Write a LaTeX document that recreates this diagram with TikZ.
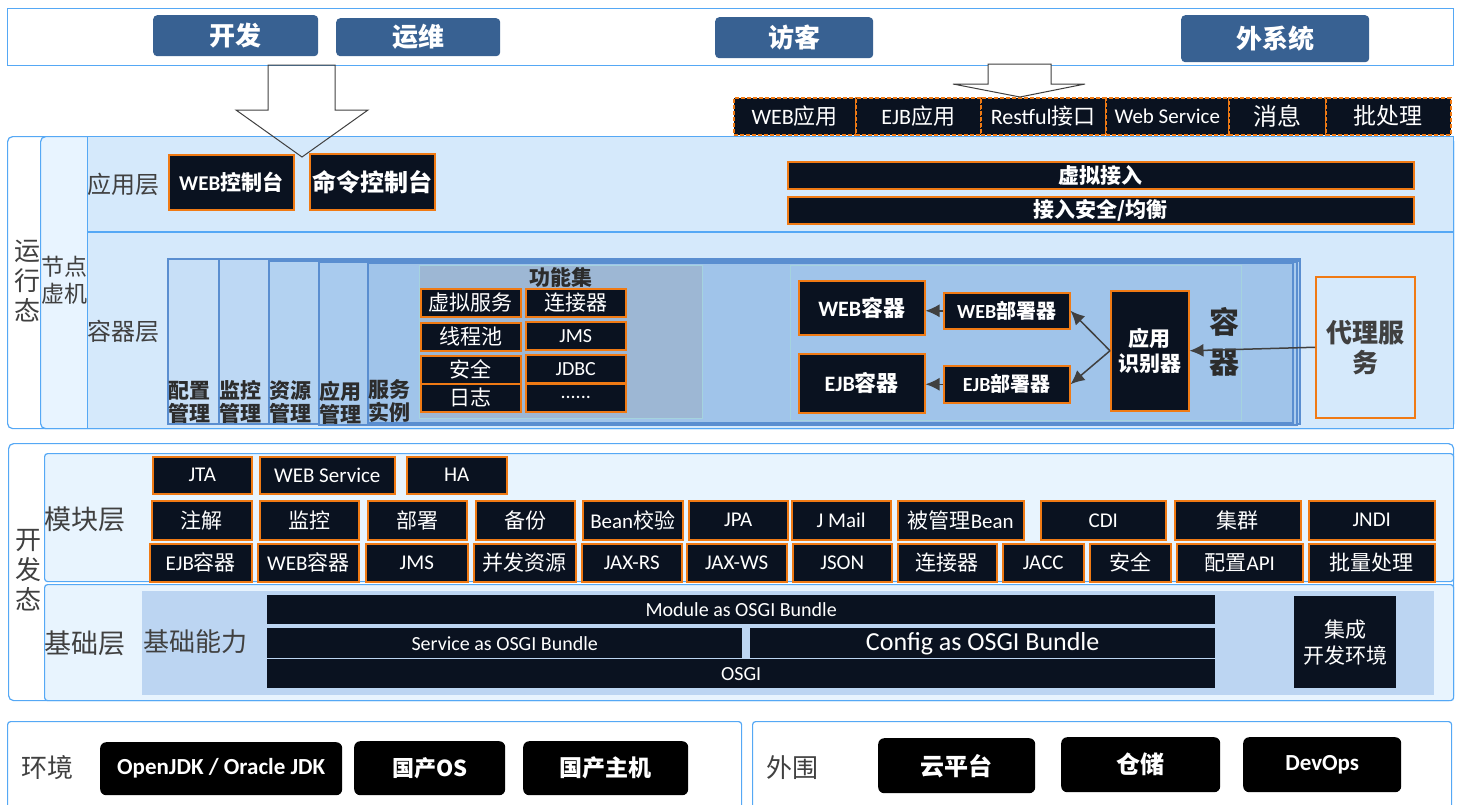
\documentclass[tikz,border=0pt]{standalone}
\usepackage{fontspec}
\setmainfont{Carlito}
\newfontfamily\cjk{Noto Sans CJK SC}
\usetikzlibrary{arrows.meta}
\newcommand{\zh}[1]{{\cjk #1}}
\newcommand{\fsz}[2]{\fontsize{#1}{#2}\selectfont}
\definecolor{btnblue}{HTML}{386192}
\definecolor{boxblack}{HTML}{0A1220}
\definecolor{orgline}{HTML}{F07A14}
\definecolor{layline}{HTML}{55A8F5}
\definecolor{vmfill}{HTML}{E8F4FF}
\definecolor{layfill}{HTML}{D5E9FB}
\definecolor{devfill}{HTML}{E8F4FE}
\definecolor{colline}{HTML}{5A8ED0}
\definecolor{colA}{HTML}{C7DFF7}
\definecolor{colB}{HTML}{BDD8F4}
\definecolor{colC}{HTML}{B3D2F1}
\definecolor{colD}{HTML}{A9CBEE}
\definecolor{colE}{HTML}{A0C4EA}
\definecolor{funfill}{HTML}{9DB7D4}
\definecolor{panelline}{HTML}{A5D3DE}
\definecolor{basefill}{HTML}{BCD5F2}
\definecolor{labgray}{HTML}{404040}
\definecolor{darktxt}{HTML}{2C2C2C}
\tikzstyle{frame} = [rectangle, draw=layline, line width=1.2pt, anchor=north west,
inner sep=0pt]
\tikzstyle{userbtn} = [rectangle, rounded corners=4pt, fill=btnblue, text=white,
anchor=north west, inner sep=0pt, font=\cjk\bfseries\fsz{26}{30}]
\tikzstyle{blk} = [rectangle, draw=orgline, line width=1.5pt, fill=boxblack,
text=white, anchor=north west, inner sep=0pt, font=\fsz{21}{24}]
\tikzstyle{dashblk} = [blk, dash pattern=on 4pt off 2pt, font=\fsz{22}{24}]
\tikzstyle{osgibar} = [rectangle, fill=boxblack, text=white, anchor=north west,
inner sep=0pt, font=\fsz{20}{22}]
\tikzstyle{colbox} = [rectangle, draw=colline, line width=1.5pt, anchor=north west,
inner sep=0pt]
\tikzstyle{collab} = [anchor=south west, inner sep=1pt, text=darktxt, align=left,
font=\cjk\bfseries\fsz{21}{23}]
\tikzstyle{laytext} = [text=labgray, align=center, inner sep=0pt,
font=\cjk\fsz{24}{30}]
\tikzstyle{envbox} = [rectangle, rounded corners=6pt, fill=black, text=white,
anchor=north west, inner sep=0pt, font=\bfseries\fsz{23}{26}]
\tikzstyle{arrow} = [line width=1.5pt, draw=labgray, -{Latex[length=14pt,width=13pt]}]
\tikzstyle{hollow} = [draw=labgray, line width=1pt]

\begin{document}
\begin{tikzpicture}[x=1pt, y=-1pt]
\useasboundingbox (0,0) rectangle (1459,804);

% users
\node[frame, line width=1pt, fill=white, minimum width=1446pt, minimum height=57pt] (users) at (7,8) {};
\node[userbtn, minimum width=165pt, minimum height=41pt] (dev) at (153,15) {开发};
\node[userbtn, minimum width=164pt, minimum height=38pt] (ops) at (336,18) {运维};
\node[userbtn, minimum width=158pt, minimum height=41pt] (guest) at (715,17) {访客};
\node[userbtn, minimum width=188pt, minimum height=47pt] (extsys) at (1181,15) {外系统};

% entries
\node[dashblk, minimum width=122pt, minimum height=37pt] (webapp) at (733,97) {WEB\zh{应用}};
\node[dashblk, minimum width=125pt, minimum height=37pt] (ejbapp) at (855,97) {EJB\zh{应用}};
\node[dashblk, minimum width=125pt, minimum height=37pt] (rest) at (980,97) {Restful\zh{接口}};
\node[dashblk, font=\fsz{21}{24}, minimum width=123pt, minimum height=37pt] (websvc) at (1105,97) {Web Service};
\node[dashblk, font=\cjk\fsz{24}{26}, minimum width=97pt, minimum height=37pt] (msg) at (1228,97) {消息};
\node[dashblk, font=\cjk\fsz{23}{26}, minimum width=125pt, minimum height=37pt] (batch) at (1325,97) {批处理};

% run state
\node[frame, rounded corners=5pt, fill=white, minimum width=1446pt, minimum height=292pt] (run) at (7,136) {};
\node[frame, rounded corners=5pt, fill=vmfill, minimum width=1413pt, minimum height=292pt] (vm) at (40,136) {};
\node[frame, fill=layfill, minimum width=1366pt, minimum height=95pt] (applayer) at (87,136) {};
\node[frame, fill=layfill, minimum width=1366pt, minimum height=196pt] (ctlayer) at (87,232) {};
\node[laytext, font=\cjk\fsz{26}{30}] (runlab) at (27,281) {运\\行\\态};
\node[laytext, font=\cjk\fsz{23}{27}] (vmlab) at (64,280) {节点\\虚机};
\node[laytext] (applab) at (123,184) {应用层};
\node[laytext] (ctlab) at (123,331) {容器层};

% application layer
\node[blk, font=\bfseries\fsz{21}{24}, minimum width=125pt, minimum height=55pt] (webcon) at (168,154) {WEB\zh{控制台}};
\node[blk, font=\cjk\bfseries\fsz{24}{26}, minimum width=125pt, minimum height=56pt] (cmdcon) at (309,153) {命令控制台};
\node[blk, font=\cjk\bfseries\fsz{21}{24}, minimum width=626pt, minimum height=27pt] (vaccess) at (787,161) {虚拟接入};
\node[blk, font=\cjk\bfseries\fsz{21}{24}, minimum width=626pt, minimum height=27pt] (secbal) at (787,196) {接入安全/均衡};

% container layer
\node[colbox, fill=colA, minimum width=1132pt, minimum height=165pt] (cfgcol) at (167,258) {};
\node[colbox, fill=colB, minimum width=1081pt, minimum height=165pt] (moncol) at (218,258) {};
\node[colbox, fill=colC, minimum width=1031pt, minimum height=163pt] (rescol) at (268,260) {};
\node[colbox, fill=colD, minimum width=978pt, minimum height=163pt] (appcol) at (318,261) {};
\node[colbox, fill=colE, minimum width=925pt, minimum height=160pt] (svccol) at (367,262) {};
\node[collab] (cfglab) at (cfgcol.south west) {配置\\管理};
\node[collab] (monlab) at (moncol.south west) {监控\\管理};
\node[collab] (reslab) at (rescol.south west) {资源\\管理};
\node[collab] (applab2) at (appcol.south west) {应用\\管理};
\node[collab] (svclab) at (svccol.south west) {服务\\实例};

\node[rectangle, draw=panelline, line width=1pt, fill=funfill, anchor=north west, inner sep=0pt, minimum width=283pt, minimum height=153pt] (funset) at (419,265) {};
\node[font=\cjk\bfseries\fsz{21}{24}, text=darktxt, inner sep=0pt] (funlab) at (561,277) {功能集};
\node[blk, font=\cjk\fsz{21}{24}, minimum width=100pt, minimum height=28pt] (vsvc) at (420,288) {虚拟服务};
\node[blk, font=\cjk\fsz{21}{24}, minimum width=100pt, minimum height=28pt] (conn) at (525,288) {连接器};
\node[blk, font=\cjk\fsz{21}{24}, minimum width=100pt, minimum height=28pt] (pool) at (420,322) {线程池};
\node[blk, font=\fsz{20}{24}, minimum width=100pt, minimum height=28pt] (jms) at (525,321) {JMS};
\node[blk, font=\cjk\fsz{21}{24}, minimum width=100pt, minimum height=28pt] (sec) at (420,355) {安全};
\node[blk, font=\fsz{20}{24}, minimum width=100pt, minimum height=28pt] (jdbc) at (525,354) {JDBC};
\node[blk, font=\cjk\fsz{21}{24}, minimum width=100pt, minimum height=28pt] (log) at (420,383) {日志};
\node[blk, font=\fsz{20}{24}, minimum width=100pt, minimum height=28pt] (more) at (525,383) {......};

\node[rectangle, draw=panelline, line width=1pt, fill=colE, anchor=north west, inner sep=0pt, minimum width=451pt, minimum height=155pt] (ctpanel) at (790,265) {};
\node[blk, font=\bfseries\fsz{22}{24}, minimum width=126pt, minimum height=54pt] (webct) at (798,280) {WEB\zh{容器}};
\node[blk, font=\bfseries\fsz{22}{24}, minimum width=126pt, minimum height=59pt] (ejbct) at (798,353) {EJB\zh{容器}};
\node[blk, font=\bfseries\fsz{20}{24}, minimum width=126pt, minimum height=36pt] (webdp) at (943,292) {WEB\zh{部署器}};
\node[blk, font=\bfseries\fsz{20}{24}, minimum width=126pt, minimum height=37pt] (ejbdp) at (943,365) {EJB\zh{部署器}};
\node[blk, font=\cjk\bfseries\fsz{21}{25}, align=center, minimum width=78pt, minimum height=120pt] (appid) at (1110,290) {应用\\识别器};
\node[font=\cjk\bfseries\fsz{30}{40}, text=darktxt, align=center, inner sep=0pt] (ctname) at (1224,342) {容\\器};
\node[rectangle, draw=orgline, line width=1.5pt, fill=layfill, anchor=north west, inner sep=0pt, minimum width=99pt, minimum height=141pt, text=labgray, font=\cjk\bfseries\fsz{26}{30}, align=center] (proxy) at (1315,276) {代理服\\务};

\draw[arrow] (proxy.west) -- (appid.east);
\draw[arrow] (appid.west) -- (webdp.east);
\draw[arrow] (appid.west) -- (ejbdp.east);
\draw[arrow] (webdp.west) -- (webdp.west -| webct.east);
\draw[arrow] (ejbdp.west) -- (ejbdp.west -| ejbct.east);

% hollow arrows
\draw[hollow] (268,65) -- (335,65) -- (335,110) -- (368,110) -- (302,157) -- (236,110) -- (268,110) -- cycle;
\draw[hollow, fill=white] (988,64) -- (1051,64) -- (1051,84) -- (1085,84) -- (1020,97) -- (953,84) -- (988,84) -- cycle;

% development state
\node[frame, rounded corners=5pt, fill=white, minimum width=1445pt, minimum height=257pt] (devst) at (8,443) {};
\node[frame, rounded corners=3pt, fill=devfill, minimum width=1409pt, minimum height=128pt] (modlayer) at (44,453) {};
\node[frame, rounded corners=3pt, fill=devfill, minimum width=1409pt, minimum height=116pt] (baselayer) at (44,584) {};
\node[laytext, font=\cjk\fsz{26}{30}] (devlab) at (29,570) {开\\发\\态};
\node[laytext, font=\cjk\fsz{27}{30}] (modlab) at (85,519) {模块层};
\node[laytext, font=\cjk\fsz{27}{30}] (baselab) at (85,643) {基础层};

% module layer
\node[blk, minimum width=99pt, minimum height=37pt] (jta) at (152,456) {JTA};
\node[blk, minimum width=135pt, minimum height=37pt] (websvc2) at (259,456) {WEB Service};
\node[blk, minimum width=100pt, minimum height=37pt] (ha) at (406,456) {HA};

\node[blk, minimum width=100pt, minimum height=39pt] (anno) at (151,500) {\zh{注解}};
\node[blk, minimum width=99pt, minimum height=39pt] (monit) at (259,500) {\zh{监控}};
\node[blk, minimum width=99pt, minimum height=39pt] (deploy) at (367,500) {\zh{部署}};
\node[blk, minimum width=99pt, minimum height=39pt] (backup) at (475,500) {\zh{备份}};
\node[blk, minimum width=100pt, minimum height=39pt] (beanval) at (582,500) {Bean\zh{校验}};
\node[blk, minimum width=99pt, minimum height=39pt] (jpa) at (688,500) {JPA};
\node[blk, minimum width=99pt, minimum height=39pt] (jmail) at (791,500) {J Mail};
\node[blk, minimum width=126pt, minimum height=39pt] (mbean) at (897,500) {\zh{被管理}Bean};
\node[blk, minimum width=125pt, minimum height=39pt] (cdi) at (1040,500) {CDI};
\node[blk, minimum width=126pt, minimum height=39pt] (cluster) at (1174,500) {\zh{集群}};
\node[blk, minimum width=126pt, minimum height=39pt] (jndi) at (1308,500) {JNDI};

\node[blk, minimum width=102pt, minimum height=38pt] (ejbmod) at (149,543) {EJB\zh{容器}};
\node[blk, minimum width=101pt, minimum height=38pt] (webmod) at (257,543) {WEB\zh{容器}};
\node[blk, minimum width=102pt, minimum height=38pt] (jmsmod) at (365,543) {JMS};
\node[blk, minimum width=102pt, minimum height=38pt] (concur) at (473,543) {\zh{并发资源}};
\node[blk, minimum width=100pt, minimum height=38pt] (jaxrs) at (581,543) {JAX-RS};
\node[blk, minimum width=100pt, minimum height=38pt] (jaxws) at (686,543) {JAX-WS};
\node[blk, minimum width=99pt, minimum height=38pt] (json) at (792,543) {JSON};
\node[blk, minimum width=99pt, minimum height=38pt] (connmod) at (897,543) {\zh{连接器}};
\node[blk, minimum width=81pt, minimum height=38pt] (jacc) at (1002,543) {JACC};
\node[blk, minimum width=81pt, minimum height=38pt] (secmod) at (1089,543) {\zh{安全}};
\node[blk, minimum width=126pt, minimum height=38pt] (cfgapi) at (1176,543) {\zh{配置}API};
\node[blk, minimum width=126pt, minimum height=38pt] (batchmod) at (1308,543) {\zh{批量处理}};

% base layer
\node[rectangle, fill=basefill, anchor=north west, inner sep=0pt, minimum width=1292pt, minimum height=104pt] (basecap) at (142,591) {};
\node[laytext, font=\cjk\fsz{26}{30}] (caplab) at (195,642) {基础能力};
\node[osgibar, minimum width=948pt, minimum height=29pt] (modbundle) at (267,595) {Module as OSGI Bundle};
\node[osgibar, minimum width=475pt, minimum height=30pt] (svcbundle) at (267,628) {Service as OSGI Bundle};
\node[osgibar, font=\fsz{26}{28}, minimum width=465pt, minimum height=30pt] (cfgbundle) at (750,628) {Config as OSGI Bundle};
\node[osgibar, minimum width=948pt, minimum height=29pt] (osgi) at (267,659) {OSGI};
\node[osgibar, font=\cjk\fsz{21}{26}, align=center, minimum width=102pt, minimum height=92pt] (ide) at (1294,596) {集成\\开发环境};

% environment
\node[frame, rounded corners=3pt, fill=white, minimum width=734pt, minimum height=95pt] (env) at (7,721) {};
\node[frame, rounded corners=3pt, fill=white, minimum width=699pt, minimum height=95pt] (periph) at (752,721) {};
\node[laytext, font=\cjk\fsz{26}{30}] (envlab) at (47,768) {环境};
\node[laytext, font=\cjk\fsz{26}{30}] (periphlab) at (792,768) {外围};
\node[envbox, minimum width=242pt, minimum height=53pt] (jdk) at (100,742) {OpenJDK / Oracle JDK};
\node[envbox, font=\cjk\bfseries\fsz{22}{26}, minimum width=151pt, minimum height=54pt] (os) at (354,741) {国产OS};
\node[envbox, font=\cjk\bfseries\fsz{23}{26}, minimum width=165pt, minimum height=54pt] (host) at (523,741) {国产主机};
\node[envbox, font=\cjk\bfseries\fsz{24}{26}, minimum width=157pt, minimum height=55pt] (cloud) at (878,738) {云平台};
\node[envbox, font=\cjk\bfseries\fsz{24}{26}, minimum width=159pt, minimum height=55pt] (repo) at (1061,737) {仓储};
\node[envbox, minimum width=158pt, minimum height=55pt] (devops) at (1243,737) {DevOps};

\end{tikzpicture}
\end{document}
